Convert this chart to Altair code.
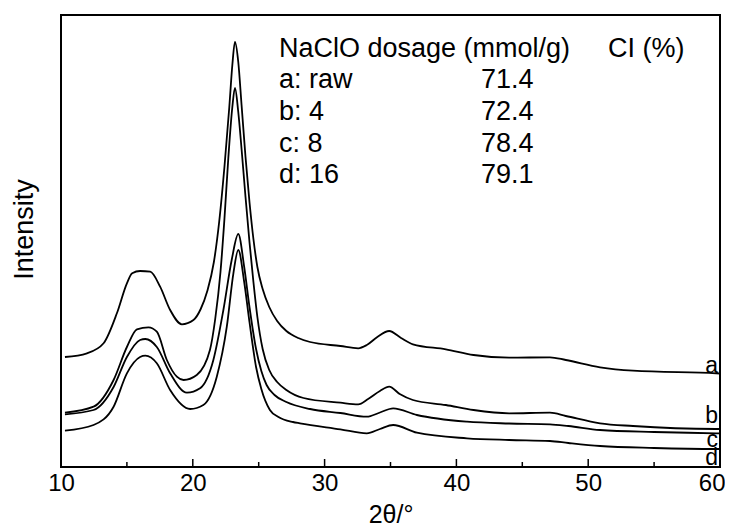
import altair as alt
import pandas as pd

# ---- XRD curves (2θ in degrees, intensity in arbitrary units) ----
theta_a = [10.3, 11.97, 13.23, 14.24, 15.0, 15.4, 16.0, 16.77, 17.52, 18.28, 19.17, 20.05, 20.6, 21.1,
           21.6, 22.0, 22.4, 22.77, 23.0, 23.2, 23.45, 23.7, 24.0, 24.3, 24.6, 24.9, 25.3, 25.8,
           26.4, 27.1, 28.0, 28.9, 31.2, 32.55, 33.2, 34.0, 34.9, 35.8, 36.7, 39.2, 41.3, 44.0,
           47.1, 48.3, 50.9, 53.4, 59.7, 60.0]
inten_a = [110, 113.7, 123.7, 153.7, 183.7, 193.7, 196, 195.3, 180.3, 157, 142.7, 147, 158, 176,
           205, 245, 300, 360, 402, 425, 405, 362, 310, 265, 228, 200, 178, 160,
           146, 136, 129, 125, 121, 118.7, 122, 130, 136, 129, 122.7, 117.7, 112, 109.3,
           109.7, 107, 99.7, 96.3, 93.7, 93.5]

theta_b = [10.3, 12.47, 13.99, 15.0, 15.76, 16.64, 17.27, 18.03, 18.79, 19.3, 20.3, 21.3, 21.7, 22.1,
           22.4, 22.7, 23.0, 23.2, 23.45, 23.7, 24.0, 24.3, 24.6, 24.9, 25.3, 25.8, 26.4, 27.1,
           28.4, 31.2, 32.55, 33.3, 34.2, 34.9, 35.7, 36.7, 39.2, 41.3, 44.0, 47.1, 48.3, 50.9,
           53.4, 59.7, 60.0]
inten_b = [54.3, 60.3, 87, 120, 137.7, 139.7, 135.3, 107, 90.3, 87, 92, 117, 148, 195,
           248, 310, 360, 379, 355, 318, 270, 225, 185, 150, 118, 97, 85, 77,
           69, 64.3, 62.7, 68, 76, 80.3, 73, 67, 62, 57, 53.7, 54.3, 51, 43.7,
           41, 38, 38]

theta_c = [10.3, 12.47, 13.99, 15.0, 16.0, 16.4, 17.27, 18.28, 19.55, 20.55, 21.56, 22.32, 22.95, 23.45,
           23.9, 24.3, 24.8, 25.2, 25.6, 26.2, 27.1, 28.9, 31.2, 33.2, 34.2, 35.2, 37.0, 40.8,
           44.0, 47.1, 48.5, 50.9, 55.0, 59.7, 60.0]
inten_c = [52.7, 57, 80, 110, 127, 128, 120, 93.7, 74.3, 78.7, 107, 157, 207, 233,
           200, 160, 118, 96, 82, 72, 65, 58, 54, 50.3, 54.5, 58.7, 52, 45.3,
           43.5, 42.7, 41, 37, 35, 33.7, 33.6]

theta_d = [10.3, 12.47, 13.99, 15.0, 16.0, 16.4, 17.27, 18.28, 19.8, 20.8, 21.82, 22.58, 23.08, 23.45,
           23.9, 24.3, 24.8, 25.2, 25.85, 26.5, 27.6, 28.13, 31.2, 33.2, 34.2, 35.2, 37.0, 40.8,
           44.0, 47.1, 48.5, 50.9, 55.0, 59.7, 60.0]
inten_d = [36.3, 42, 60.3, 93.7, 110, 111.3, 103.7, 77, 58, 62, 90.3, 140.3, 193.7, 217,
           185, 145, 100, 78, 57, 50, 45, 43.7, 37.7, 33.7, 38, 42, 34.3, 28.7,
           27, 26, 24, 21, 19, 18, 18]

series_names = ["a", "b", "c", "d"]
end_label_y = [94, 44, 20, 2]

# ---- legend table ----
header_text = ["NaClO dosage (mmol/g)", "CI (%)"]
sample_labels = ["a: raw", "b: 4", "c: 8", "d: 16"]
ci_values = ["71.4", "72.4", "78.4", "79.1"]

major_ticks = [10, 20, 30, 40, 50, 60]
minor_ticks = [15, 25, 35, 45, 55]

FONT = "Liberation Sans"
W, H = 659, 452

rows = []
for name, xs, ys in zip(series_names,
                        [theta_a, theta_b, theta_c, theta_d],
                        [inten_a, inten_b, inten_c, inten_d]):
    for x, y in zip(xs, ys):
        rows.append({"series": name, "two_theta": x, "intensity": y})
df = pd.DataFrame(rows)

x_scale = alt.Scale(domain=[10, 60], nice=False, zero=False)
y_scale = alt.Scale(domain=[0, H], nice=False, zero=False)

lines = alt.Chart(df).mark_line(
    color="black", strokeWidth=1.8, interpolate="monotone", clip=True
).encode(
    x=alt.X("two_theta:Q", scale=x_scale,
            axis=alt.Axis(values=major_ticks, format="d", title="2θ/°",
                          ticks=False, tickSize=0, domain=False, grid=False,
                          labelFont=FONT, labelFontSize=24, labelColor="black",
                          labelFlush=False, labelOverlap=False,
                          labelAlign={"condition": {"test": "datum.value == 60", "value": "right"},
                                      "value": "center"},
                          labelOffset={"condition": {"test": "datum.value == 60", "value": 5},
                                       "value": 0},
                          labelBaseline="alphabetic", labelPadding=23,
                          titleFont=FONT, titleFontSize=25, titleFontWeight="normal",
                          titleColor="black", titleBaseline="alphabetic", titleY=55)),
    y=alt.Y("intensity:Q", scale=y_scale,
            axis=alt.Axis(title="Intensity", labels=False, ticks=False, domain=False, grid=False,
                          titleFont=FONT, titleFontSize=27, titleFontWeight="normal",
                          titleColor="black", titleBaseline="alphabetic",
                          titleX=-29, titleY=214)),
    detail="series:N",
)

end_df = pd.DataFrame({"x": [60] * 4, "y": end_label_y, "t": series_names})
end_labels = alt.Chart(end_df).mark_text(
    font=FONT, fontSize=23, align="right", baseline="alphabetic", color="black", dx=-2
).encode(x=alt.X("x:Q", scale=x_scale), y=alt.Y("y:Q", scale=y_scale), text="t:N")

col1_x, col2_x, col3_x = 26.54, 41.87, 51.5
row_y = [410.3, 378.7, 347.0, 315.3, 283.7]

head_df = pd.DataFrame({"x": [col1_x, col3_x], "y": [row_y[0]] * 2, "t": header_text})
lab_df = pd.DataFrame({"x": [col1_x] * 4, "y": row_y[1:], "t": sample_labels})
ci_df = pd.DataFrame({"x": [col2_x] * 4, "y": row_y[1:], "t": ci_values})
table_df = pd.concat([head_df, lab_df, ci_df], ignore_index=True)

table = alt.Chart(table_df).mark_text(
    font=FONT, fontSize=27, align="left", baseline="alphabetic", color="black"
).encode(x=alt.X("x:Q", scale=x_scale), y=alt.Y("y:Q", scale=y_scale), text="t:N")

major_df = pd.DataFrame({"pos": major_ticks[1:-1]})
minor_df = pd.DataFrame({"pos": minor_ticks})
major_rules = alt.Chart(major_df).mark_rule(color="black", strokeWidth=1.5).encode(
    x=alt.X("pos:Q", scale=x_scale), y=alt.value(H), y2=alt.value(H - 8))
minor_rules = alt.Chart(minor_df).mark_rule(color="black", strokeWidth=1.5).encode(
    x=alt.X("pos:Q", scale=x_scale), y=alt.value(H), y2=alt.value(H - 5))

chart = alt.layer(lines, end_labels, table, major_rules, minor_rules).properties(
    width=W, height=H,
    autosize=alt.AutoSizeParams(type="none"),
    padding={"left": 53, "top": 7, "right": 5, "bottom": 64},
    background="white",
).configure_view(stroke="black", strokeWidth=2).configure_axis(grid=False)

chart.save("out.html", embed_options={"renderer": "svg", "actions": False})
